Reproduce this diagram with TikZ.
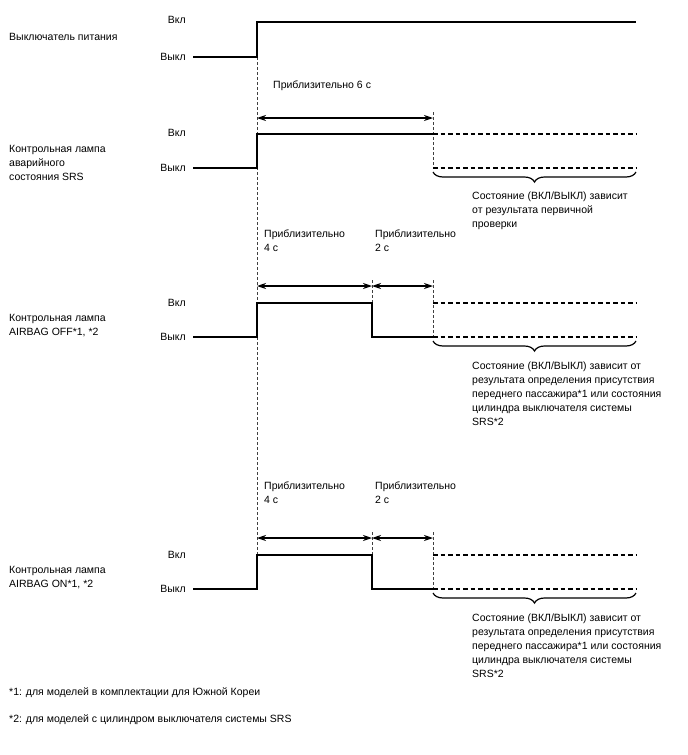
\documentclass[tikz,border=0pt]{standalone}
\usepackage{fontspec}
\setmainfont{Liberation Sans}
\usetikzlibrary{arrows.meta,decorations.pathreplacing}

\begin{document}
\begin{tikzpicture}[x=1pt,y=-1pt,
  font=\fontsize{10.5}{14}\selectfont,
  signal/.style={line width=1.5pt},
  guide/.style={line width=0.6pt, dash pattern=on 3pt off 2pt, black!75},
  future/.style={line width=1.2pt, dash pattern=on 4.5pt off 3pt},
  span/.style={{Stealth[length=9pt,width=6pt]}-{Stealth[length=9pt,width=6pt]}, line width=1.2pt},
  brc/.style={decorate, decoration={brace, mirror, amplitude=10pt}, line width=1.2pt},
  txt/.style={anchor=west, align=left, inner sep=0pt},
  lvl/.style={anchor=east, inner sep=0pt}]

\useasboundingbox (0,0) rectangle (688,755);

% guides
\draw[guide] (257,57) -- (257,555);
\draw[guide] (433,112) -- (433,168);
\draw[guide] (433,280) -- (433,337);
\draw[guide] (372,280) -- (372,303);
\draw[guide] (433,532) -- (433,589);
\draw[guide] (372,532) -- (372,555);

% power switch
\node[txt] (sw) at (9,37) {Выключатель питания};
\node[lvl] (swon) at (186,20) {Вкл};
\node[lvl] (swoff) at (186,57) {Выкл};
\draw[signal] (193,57) -- (257,57) -- (257,22) -- (636,22);

\node[txt] (t6) at (273,86) {Приблизительно 6 с};
\draw[span] (257,118) -- (433,118);

% SRS warning lamp
\node[txt] (srs) at (9,163) {Контрольная лампа\\аварийного\\состояния SRS};
\node[lvl] (srson) at (186,133) {Вкл};
\node[lvl] (srsoff) at (186,168) {Выкл};
\draw[signal] (193,168) -- (257,168) -- (257,134) -- (433,134);
\draw[future] (433,134) -- (636,134);
\draw[future] (433,168) -- (636,168);
\draw[brc] (433,172) -- (636,172);
\node[txt] (srsnote) at (472,211) {Состояние (ВКЛ/ВЫКЛ) зависит\\от результата первичной\\проверки};

% AIRBAG OFF
\node[txt] (off4) at (264,241) {Приблизительно\\4 с};
\node[txt] (off2) at (375,241) {Приблизительно\\2 с};
\draw[span] (257,286) -- (372,286);
\draw[span] (372,286) -- (433,286);
\node[txt] (offlamp) at (9,326) {Контрольная лампа\\AIRBAG OFF*1, *2};
\node[lvl] (offon) at (186,303) {Вкл};
\node[lvl] (offoff) at (186,337) {Выкл};
\draw[signal] (193,337) -- (257,337) -- (257,303) -- (372,303) -- (372,337) -- (433,337);
\draw[future] (433,303) -- (636,303);
\draw[future] (433,337) -- (636,337);
\draw[brc] (433,341) -- (636,341);
\node[txt] (offnote) at (472,394) {Состояние (ВКЛ/ВЫКЛ) зависит от\\результата определения присутствия\\переднего пассажира*1 или состояния\\цилиндра выключателя системы\\SRS*2};

% AIRBAG ON
\node[txt] (on4) at (264,493) {Приблизительно\\4 с};
\node[txt] (on2) at (375,493) {Приблизительно\\2 с};
\draw[span] (257,538) -- (372,538);
\draw[span] (372,538) -- (433,538);
\node[txt] (onlamp) at (9,578) {Контрольная лампа\\AIRBAG ON*1, *2};
\node[lvl] (onon) at (186,555) {Вкл};
\node[lvl] (onoff) at (186,589) {Выкл};
\draw[signal] (193,589) -- (257,589) -- (257,555) -- (372,555) -- (372,589) -- (433,589);
\draw[future] (433,555) -- (636,555);
\draw[future] (433,589) -- (636,589);
\draw[brc] (433,593) -- (636,593);
\node[txt] (onnote) at (472,646) {Состояние (ВКЛ/ВЫКЛ) зависит от\\результата определения присутствия\\переднего пассажира*1 или состояния\\цилиндра выключателя системы\\SRS*2};

% footnotes
\node[txt] (fn1) at (9,693) {*1: для моделей в комплектации для Южной Кореи};
\node[txt] (fn2) at (9,720) {*2: для моделей с цилиндром выключателя системы SRS};

\end{tikzpicture}
\end{document}
